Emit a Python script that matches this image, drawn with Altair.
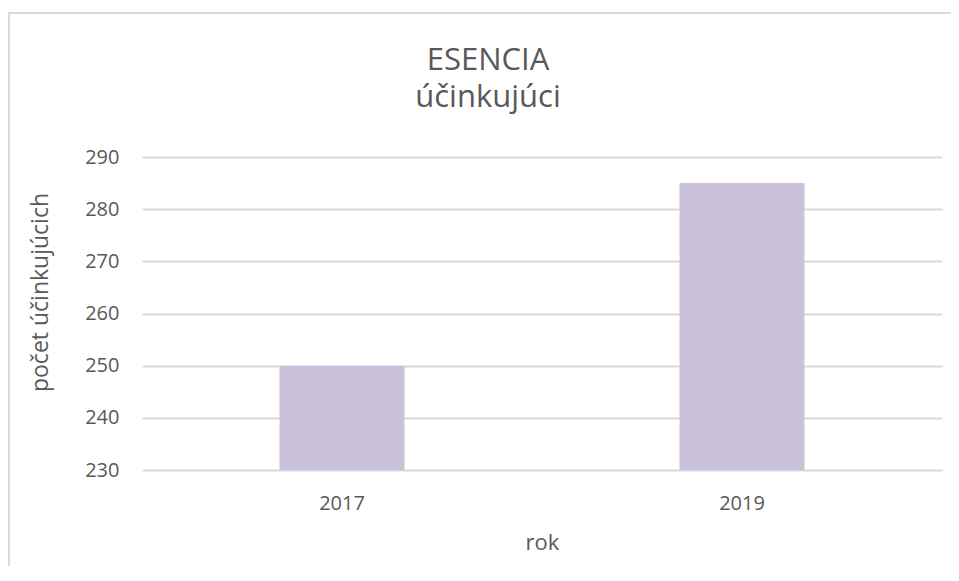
import altair as alt
import pandas as pd

years = ["2017", "2019"]
counts = [250, 285]
y_ticks = [230, 240, 250, 260, 270, 280, 290]
title_lines = ["ESENCIA", "účinkujúci"]
x_title = "rok"
y_title = "počet účinkujúcich"
axis_min = 230
axis_max = 290

df = pd.DataFrame({"rok": years, "pocet": counts})

FONT = "Open Sans"
GREY = "#595959"
BORDER = "#d9d9d9"

bars = alt.Chart(df).mark_bar(size=125, color="#ccc1da").encode(
    x=alt.X(
        "rok:N",
        sort=years,
        scale=alt.Scale(paddingInner=0, paddingOuter=0),
        axis=alt.Axis(
            title=x_title,
            labelAngle=0,
            domain=False,
            ticks=False,
            tickSize=0,
            grid=False,
            labelPadding=39,
            labelBaseline="alphabetic",
            labelFont=FONT,
            labelFontSize=20,
            labelColor=GREY,
            titleFont=FONT,
            titleFontSize=22,
            titleFontWeight="normal",
            titleColor=GREY,
            titleY=79,
            titleBaseline="alphabetic",
        ),
    ),
    y=alt.Y(
        "pocet:Q",
        scale=alt.Scale(domain=[axis_min, axis_max], nice=False, zero=False),
        axis=alt.Axis(
            title=y_title,
            values=y_ticks,
            domain=False,
            ticks=False,
            tickSize=0,
            grid=True,
            gridColor=BORDER,
            gridWidth=2,
            labelPadding=23,
            labelFont=FONT,
            labelFontSize=20,
            labelColor=GREY,
            titleFont=FONT,
            titleFontSize=23,
            titleFontWeight="normal",
            titleColor=GREY,
            titleAngle=-90,
            titleX=-95,
            titleY=135,
            titleAlign="center",
            titleBaseline="alphabetic",
        ),
    ),
    y2=alt.datum(axis_min),
)

frame_base = alt.Chart(pd.DataFrame({"k": [0]}))
top_line = frame_base.mark_rule(color=BORDER, strokeWidth=2).encode(
    x=alt.value(-134), x2=alt.value(815), y=alt.value(-144)
)
left_line = frame_base.mark_rule(color=BORDER, strokeWidth=2).encode(
    x=alt.value(-133), y=alt.value(-145), y2=alt.value(420)
)

title1 = frame_base.mark_text(
    font=FONT, fontSize=31, color=GREY, align="center", baseline="alphabetic"
).encode(text=alt.datum(title_lines[0]), x=alt.value(346), y=alt.value(-87))
title2 = frame_base.mark_text(
    font=FONT, fontSize=31, color=GREY, align="center", baseline="alphabetic"
).encode(text=alt.datum(title_lines[1]), x=alt.value(346), y=alt.value(-50))

chart = alt.layer(
    top_line, left_line, bars, title1, title2,
    view=alt.ViewBackground(stroke="transparent", strokeWidth=0),
).properties(
    width=800,
    height=313,
    autosize=alt.AutoSizeParams(type="none"),
    padding={"left": 134, "top": 149, "right": 9, "bottom": 96},
).configure_view(stroke="transparent", strokeWidth=0).configure(background="white")

chart.save("out.html", embed_options={"renderer": "svg", "actions": False})
